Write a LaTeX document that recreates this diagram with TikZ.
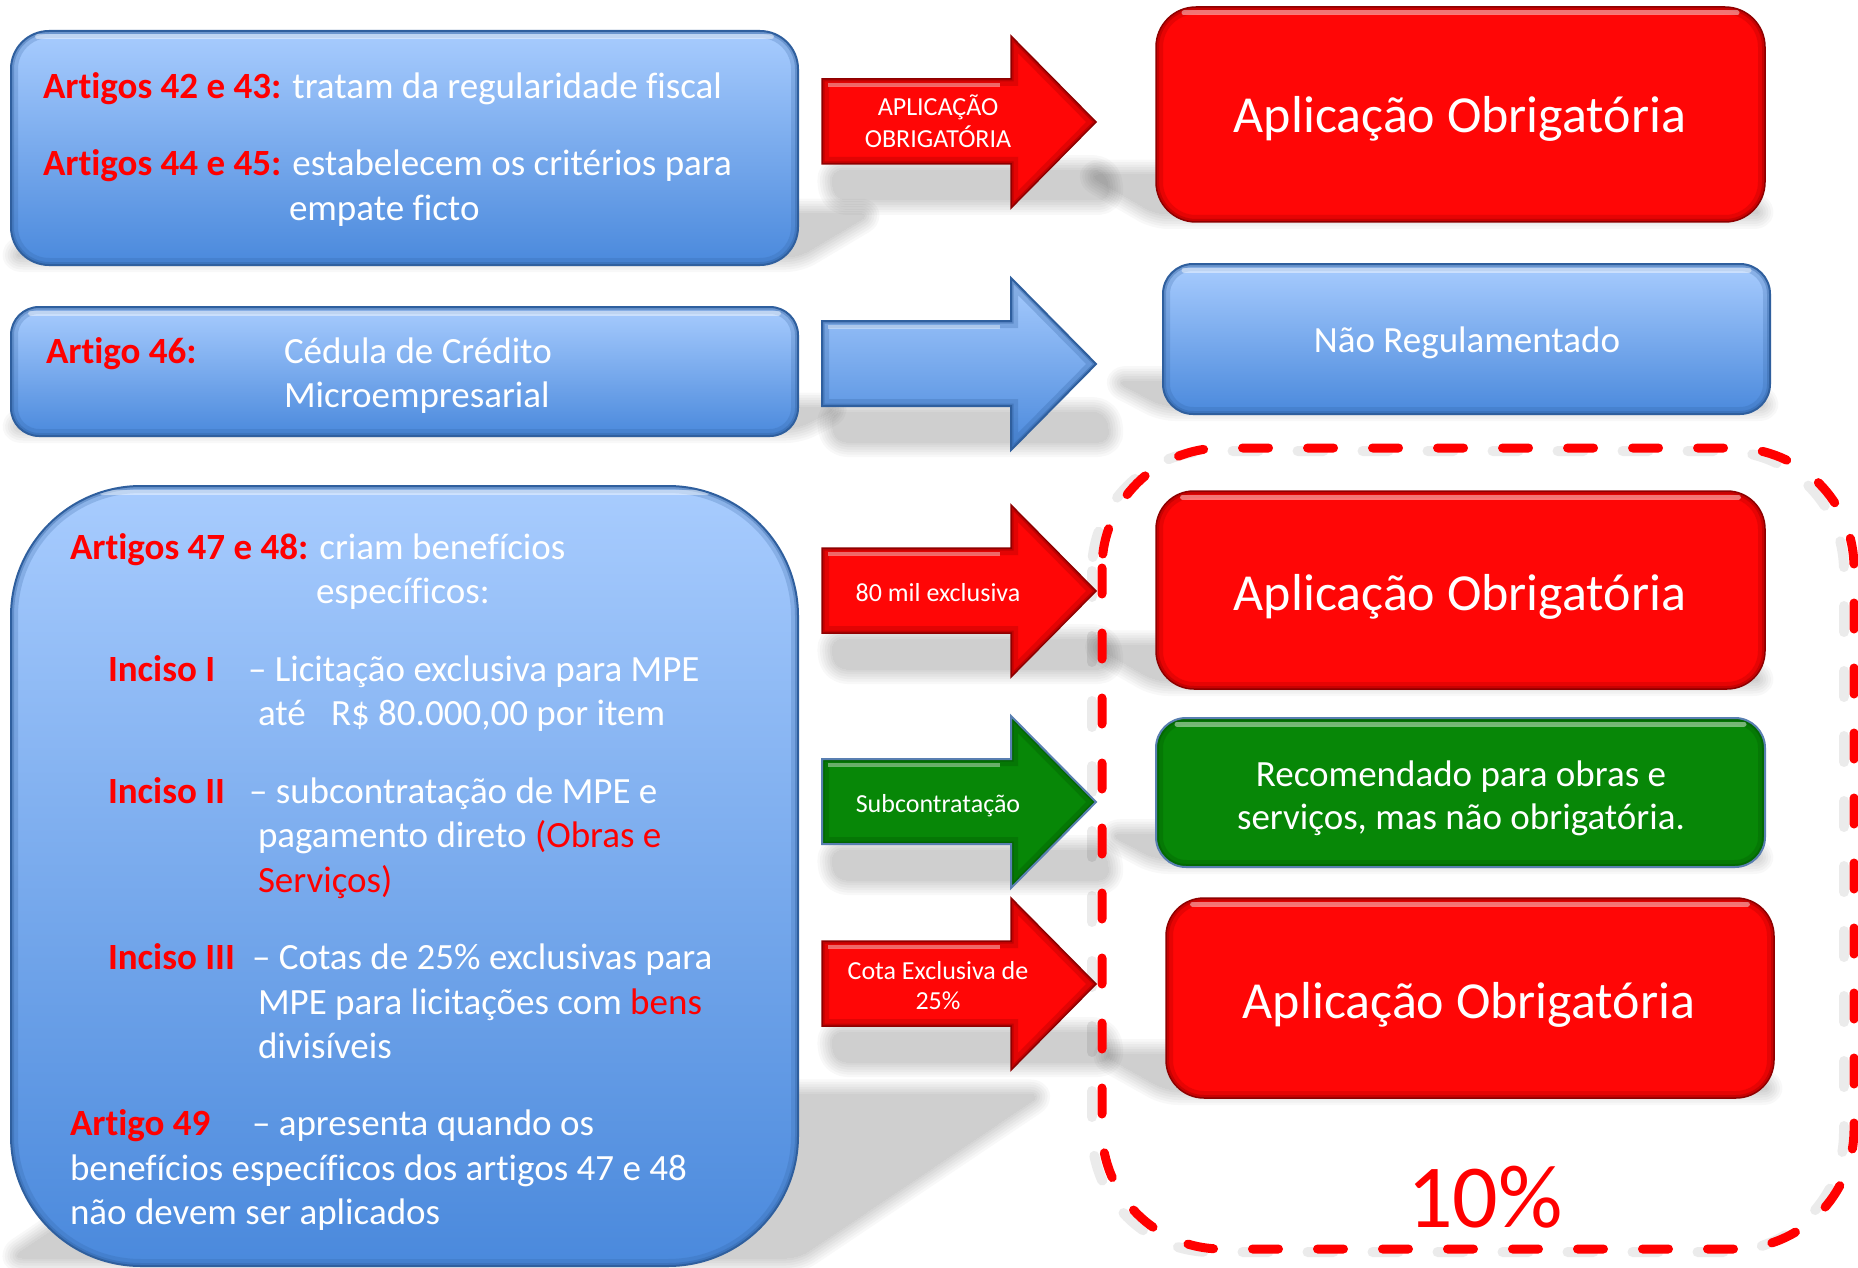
\documentclass[tikz,border=0pt]{standalone}
\usepackage{fontspec}
\setmainfont{Carlito}[Ligatures=NoCommon]
\definecolor{bluetop}{HTML}{A8CCFE}
\definecolor{bluebot}{HTML}{4A89DC}
\definecolor{blueedge}{HTML}{2F5F9E}
\definecolor{redfill}{HTML}{FF0606}
\definecolor{rededge}{HTML}{8E0000}
\definecolor{greenfill}{HTML}{078707}
\definecolor{greenedge}{HTML}{024A02}
\definecolor{lblred}{HTML}{FF0000}
\newcommand\rb[1]{{\color{lblred}\bfseries #1}}
% soft perspective shadow: x1 x2 top bottom extra-shift
\newcommand\shadowpar[5]{%
  \pgfmathsetmacro\hh{#4-#3}%
  \pgfmathsetmacro\ty{#4-0.22*\hh}%
  \pgfmathsetmacro\by{#4-8}%
  \pgfmathsetmacro\ss{0.0027*(930-(#1+#2)/2)*0.22*\hh+#5}%
  \pgfmathsetmacro\lx{#1+\ss}%
  \pgfmathsetmacro\rx{#2+\ss}%
  \foreach \w in {0,5,...,30}{%
    \begin{scope}[transparency group, opacity=0.028]
      \filldraw[black, line width=\w, line join=round, rounded corners=12]
        (#1,\by) -- (#2,\by) -- (\rx,\ty) -- (\lx,\ty) -- cycle;
    \end{scope}
  }%
}
% bevelled rounded box: x1 y1 x2 y2 radius kind
\newcommand\bbox[6]{%
  \path[#6fill, rounded corners=#5] (#1,#2) rectangle (#3,#4);
  \begin{scope}
    \clip[rounded corners=#5] (#1,#2) rectangle (#3,#4);
    \draw[#6rim, line width=14, opacity=0.22, rounded corners=#5] (#1,#2) rectangle (#3,#4);
    \draw[#6rim, line width=6, opacity=0.35, rounded corners=#5] (#1,#2) rectangle (#3,#4);
    \draw[white, opacity=0.45, line width=5, line cap=round] ({#1+#5*0.7},{#2+6}) -- ({#3-#5*0.7},{#2+6});
  \end{scope}
  \draw[#6line, rounded corners=#5] (#1,#2) rectangle (#3,#4);
}
% block arrow: tip y, kind
\newcommand\barrow[2]{%
  \path[#2fill] (822,{#1-43}) -- (1011,{#1-43}) -- (1011,{#1-86}) -- (1096,#1) -- (1011,{#1+86}) -- (1011,{#1+42}) -- (822,{#1+42}) -- cycle;
  \begin{scope}
    \clip (822,{#1-43}) -- (1011,{#1-43}) -- (1011,{#1-86}) -- (1096,#1) -- (1011,{#1+86}) -- (1011,{#1+42}) -- (822,{#1+42}) -- cycle;
    \draw[#2rim, line width=14, opacity=0.25, line join=miter] (822,{#1-43}) -- (1011,{#1-43}) -- (1011,{#1-86}) -- (1096,#1) -- (1011,{#1+86}) -- (1011,{#1+42}) -- (822,{#1+42}) -- cycle;
    \draw[#2rim, line width=5, opacity=0.4, line join=miter] (822,{#1-43}) -- (1011,{#1-43}) -- (1011,{#1-86}) -- (1096,#1) -- (1011,{#1+86}) -- (1011,{#1+42}) -- (822,{#1+42}) -- cycle;
    \draw[white, opacity=0.4, line width=4] (828,{#1-37}) -- (1000,{#1-37});
  \end{scope}
  \draw[#2line, line join=miter] (822,{#1-43}) -- (1011,{#1-43}) -- (1011,{#1-86}) -- (1096,#1) -- (1011,{#1+86}) -- (1011,{#1+42}) -- (822,{#1+42}) -- cycle;
}
\begin{document}
\begin{tikzpicture}[x=1pt,y=-1pt,
  bluefill/.style={top color=bluetop, bottom color=bluebot},
  bluerim/.style={draw=blueedge},
  blueline/.style={draw=blueedge, line width=2},
  redfill/.style={fill=redfill},
  redrim/.style={draw=rededge},
  redline/.style={draw=rededge, line width=1.5},
  greenfill/.style={fill=greenfill},
  greenrim/.style={draw=greenedge},
  greenline/.style={draw=blueedge!80, line width=2},
  txt/.style={anchor=base west, inner sep=0, outer sep=0, text=white, font=\fontsize{37}{44}\selectfont},
  ctr/.style={anchor=base, inner sep=0, outer sep=0, text=white},
  bigtxt/.style={ctr, font=\fontsize{52}{62}\selectfont},
  midtxt/.style={ctr, font=\fontsize{37}{44}\selectfont},
  arrtxt/.style={ctr, font=\fontsize{26}{31}\selectfont},
]
\useasboundingbox (0,0) rectangle (1858,1268);
\fill[white] (0,0) rectangle (1858,1268);

% shadows
\shadowpar{11}{798}{31}{265}{0}
\shadowpar{11}{798}{307}{436}{0}
\shadowpar{11}{798}{486}{1266}{0}
\shadowpar{835}{1110}{36}{208}{0}
\shadowpar{835}{1110}{278}{450}{0}
\shadowpar{835}{1110}{505}{677}{0}
\shadowpar{835}{1110}{716}{888}{0}
\shadowpar{835}{1110}{898}{1070}{0}
\shadowpar{1156}{1765}{7}{222}{0}
\shadowpar{1163}{1770}{264}{414}{0}
\shadowpar{1156}{1765}{491}{689}{0}
\shadowpar{1156}{1765}{718}{867}{0}
\shadowpar{1166}{1774}{898}{1098}{0}

% dashed frame shadow
\draw[black, opacity=0.08, line width=10, line cap=round, dash pattern=on 26 off 39, rounded corners=120]
  (1092,451) rectangle (1844,1252);

% left boxes
\bbox{11}{31}{798}{265}{38}{blue}
\bbox{11}{307}{798}{436}{28}{blue}
\bbox{11}{486}{798}{1266}{130}{blue}

% arrows
\barrow{122}{red}
\barrow{364}{blue}
\barrow{591}{red}
\barrow{802}{green}
\barrow{984}{red}

% right boxes
\bbox{1156}{7}{1765}{222}{40}{red}
\bbox{1163}{264}{1770}{414}{30}{blue}
\bbox{1156}{491}{1765}{689}{38}{red}
\bbox{1156}{718}{1765}{867}{30}{green}
\bbox{1166}{898}{1774}{1098}{38}{red}

% dashed frame
\draw[lblred, line width=9, line cap=round, dash pattern=on 26 off 39, rounded corners=120]
  (1102,448) rectangle (1854,1249);

% texts, left column
\node[txt] (a1) at (43,99) {\rb{Artigos 42 e 43:} tratam da regularidade fiscal};
\node[txt] (a2) at (43,176) {\rb{Artigos 44 e 45:} estabelecem os critérios para};
\node[txt] (a3) at (289,221) {empate ficto};
\node[txt] (b1) at (46,363) {\rb{Artigo 46:}};
\node[txt] (b2) at (284,363) {Cédula de Crédito};
\node[txt] (b3) at (284,407) {Microempresarial};
\node[txt] (c1) at (70,559) {\rb{Artigos 47 e 48:} criam benefícios};
\node[txt] (c2) at (316,603) {específicos:};
\node[txt] (c3) at (108,681) {\rb{Inciso I}};
\node[txt] (c4) at (248,681) {– Licitação exclusiva para MPE};
\node[txt] (c5) at (258,725) {até};
\node[txt] (c6) at (331,725) {R\$ 80.000,00 por item};
\node[txt] (c7) at (108,803) {\rb{Inciso II}};
\node[txt] (c8) at (249,803) {– subcontratação de MPE e};
\node[txt] (c9) at (258,847) {pagamento direto \textcolor{lblred}{(Obras e}};
\node[txt] (c10) at (258,892) {\textcolor{lblred}{Serviços)}};
\node[txt] (c11) at (108,969) {\rb{Inciso III}};
\node[txt] (c12) at (252,969) {– Cotas de 25\% exclusivas para};
\node[txt] (c13) at (258,1014) {MPE para licitações com \textcolor{lblred}{bens}};
\node[txt] (c14) at (258,1058) {divisíveis};
\node[txt] (c15) at (70,1135) {\rb{Artigo 49}};
\node[txt] (c16) at (252,1135) {– apresenta quando os};
\node[txt] (c17) at (70,1180) {benefícios específicos dos artigos 47 e 48};
\node[txt] (c18) at (70,1224) {não devem ser aplicados};

% arrow labels
\node[arrtxt] (l1a) at (938,116) {APLICAÇÃO};
\node[arrtxt] (l1b) at (938,148) {OBRIGATÓRIA};
\node[arrtxt] (l3) at (938,601) {80 mil exclusiva};
\node[arrtxt] (l4) at (938,812) {Subcontratação};
\node[arrtxt] (l5a) at (938,979) {Cota Exclusiva de};
\node[arrtxt] (l5b) at (938,1009) {25\%};

% right texts
\node[bigtxt] (r1) at (1460,133) {Aplicação Obrigatória};
\node[midtxt] (r2) at (1467,352) {Não Regulamentado};
\node[bigtxt] (r3) at (1460,610) {Aplicação Obrigatória};
\node[midtxt] (g1) at (1461,786) {Recomendado para obras e};
\node[midtxt] (g2) at (1461,829) {serviços, mas não obrigatória.};
\node[bigtxt] (r4) at (1469,1018) {Aplicação Obrigatória};
\node[ctr, text=lblred, font=\fontsize{90}{100}\selectfont] (pct) at (1485,1227) {10\%};
\end{tikzpicture}
\end{document}
